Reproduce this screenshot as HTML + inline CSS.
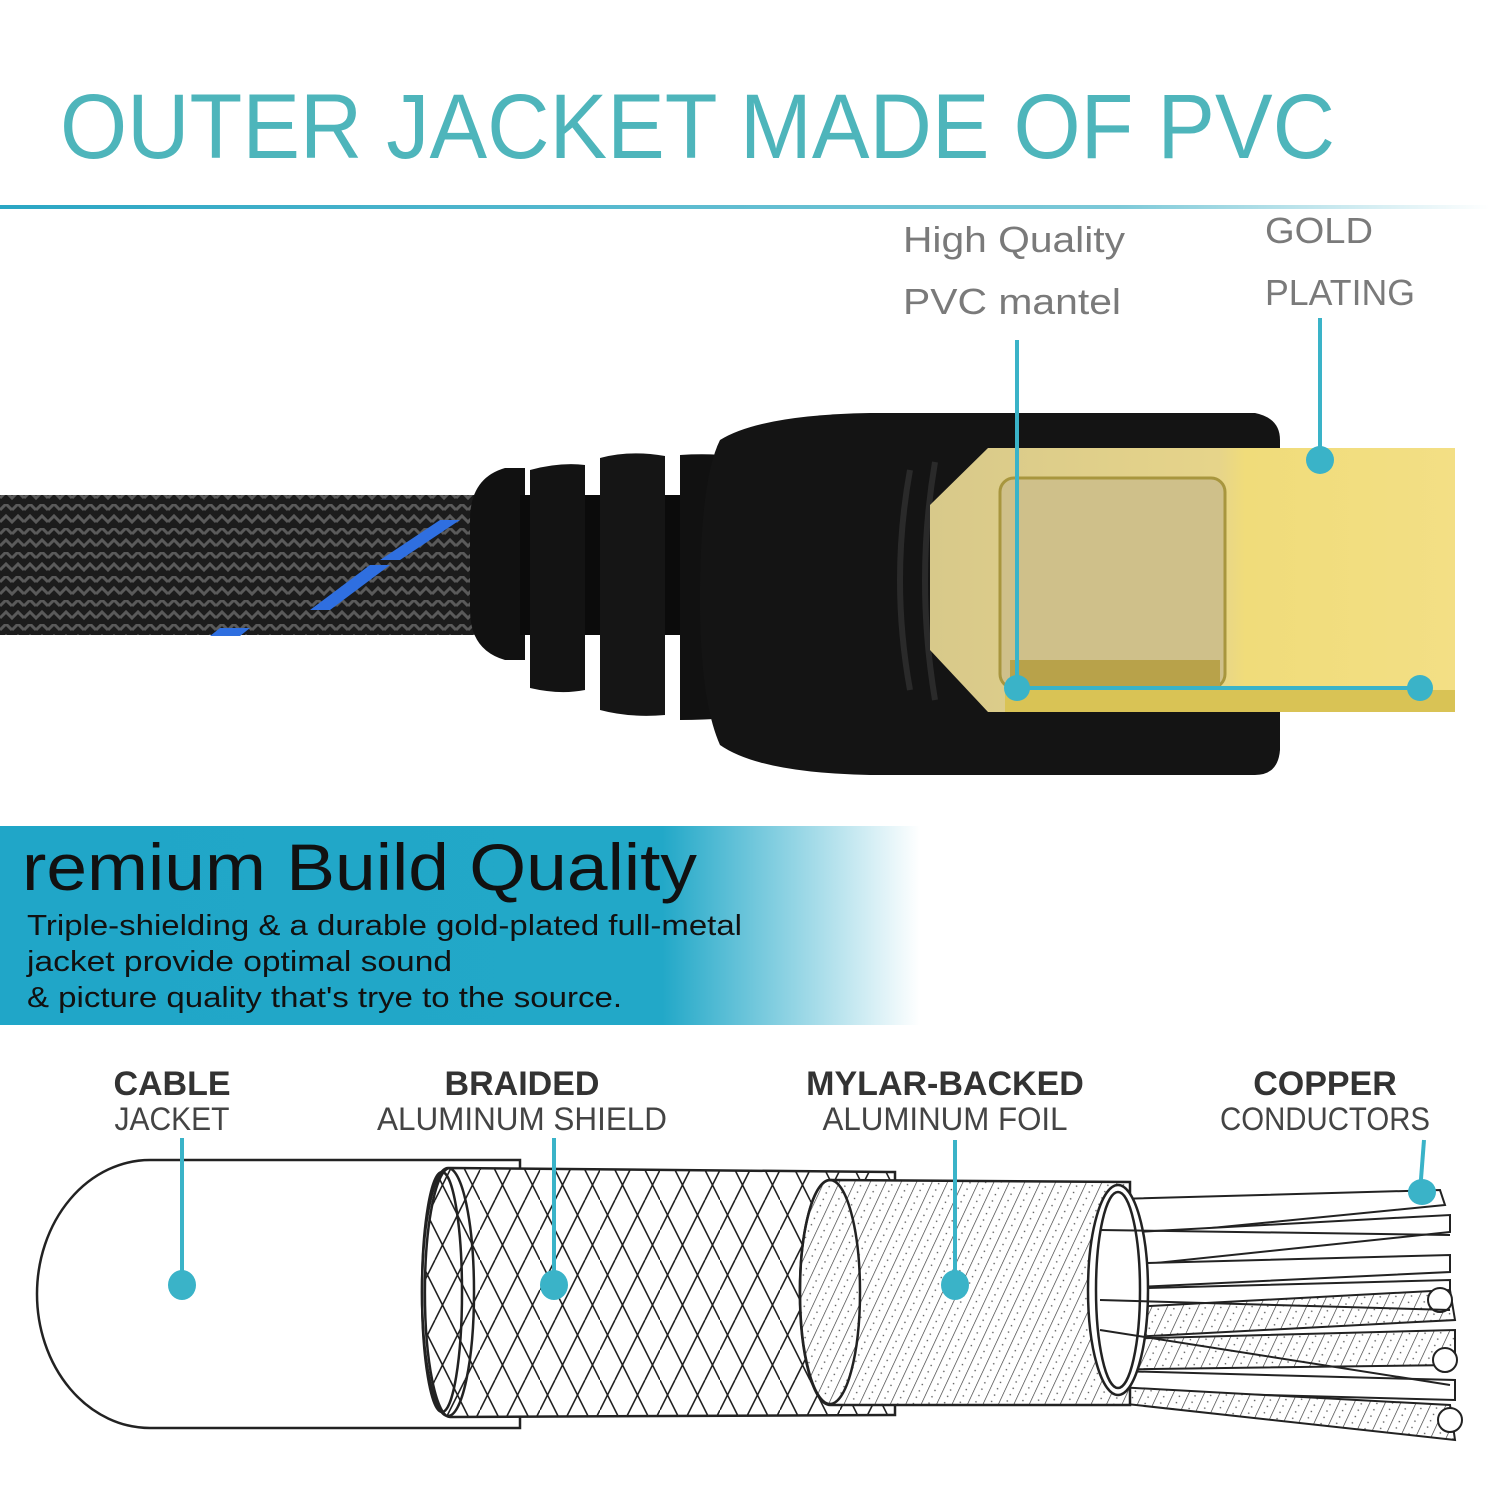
<!DOCTYPE html>
<html><head><meta charset="utf-8"><style>
html,body{margin:0;padding:0;background:#fff;}
svg{display:block;}
</style></head><body>
<svg width="1500" height="1498" viewBox="0 0 1500 1498" xmlns="http://www.w3.org/2000/svg" font-family="Liberation Sans, sans-serif">
<defs>
<linearGradient id="hl" x1="0" x2="1"><stop offset="0" stop-color="#2aa6c4"/><stop offset="0.75" stop-color="#7cc9d8"/><stop offset="1" stop-color="#fff"/></linearGradient>
<linearGradient id="ban" x1="0" x2="920" gradientUnits="userSpaceOnUse"><stop offset="0" stop-color="#20a6c8"/><stop offset="0.72" stop-color="#22a8c8"/><stop offset="1" stop-color="#fff"/></linearGradient>
<pattern id="braid" width="24" height="24" patternUnits="userSpaceOnUse">
<rect width="24" height="24" fill="#1c1c1c"/>
<path d="M0,6 L6,0 L12,6 M12,6 L18,0 L24,6 M0,18 L6,12 L12,18 L18,12 L24,18" stroke="#5a5a5a" stroke-width="3" fill="none"/>
</pattern>
<pattern id="hb" width="60" height="60" patternUnits="userSpaceOnUse" patternTransform="rotate(0)">
<rect width="60" height="60" fill="#fff"/>
<path d="M0,0 L30,60 M30,0 L60,60 M0,30 L15,0 M15,60 L45,0 M45,60 L60,30 M-15,30 L0,0" stroke="#222" stroke-width="1.6" fill="none"/>
</pattern>
<pattern id="foil" width="14" height="14" patternUnits="userSpaceOnUse" patternTransform="rotate(25)">
<rect width="14" height="14" fill="#fff"/>
<line x1="0" y1="0" x2="0" y2="14" stroke="#333" stroke-width="1.3"/>
<circle cx="7" cy="4" r="0.8" fill="#555"/><circle cx="7" cy="11" r="0.8" fill="#555"/>
</pattern>
<linearGradient id="gold" x1="0" x2="1"><stop offset="0" stop-color="#d8c98a"/><stop offset="0.55" stop-color="#e6d48a"/><stop offset="0.6" stop-color="#f0dc7a"/><stop offset="1" stop-color="#f3df85"/></linearGradient>
</defs>

<text x="60" y="158" font-size="92" fill="#4eb5bb" textLength="1275" lengthAdjust="spacingAndGlyphs">OUTER JACKET MADE OF PVC</text>
<rect x="0" y="205" width="1490" height="4" fill="url(#hl)"/>

<text x="903" y="252" font-size="36" fill="#7a7a7a" textLength="222" lengthAdjust="spacingAndGlyphs">High Quality</text>
<text x="903" y="314" font-size="36" fill="#7a7a7a" textLength="218" lengthAdjust="spacingAndGlyphs">PVC mantel</text>
<text x="1265" y="243" font-size="36" fill="#7a7a7a" textLength="108" lengthAdjust="spacingAndGlyphs">GOLD</text>
<text x="1265" y="305" font-size="36" fill="#7a7a7a" textLength="150" lengthAdjust="spacingAndGlyphs">PLATING</text>

<!-- cable braid -->
<rect x="0" y="495" width="500" height="140" fill="url(#braid)"/>
<path d="M440,520 L460,520 L400,560 L380,560Z M370,565 L390,565 L330,610 L310,610Z M220,628 L250,628 L240,636 L210,636Z" fill="#2f6fe0"/>
<!-- boot ribs -->
<path d="M470,520 Q470,478 505,468 L525,468 L525,660 L505,660 Q470,650 470,610Z" fill="#111"/>
<rect x="520" y="495" width="170" height="140" fill="#0b0b0b"/>
<path d="M530,470 Q560,462 585,465 L585,690 Q560,695 530,688Z" fill="#131313"/>
<path d="M600,458 Q630,450 665,456 L665,715 Q630,718 600,710Z" fill="#151515"/>
<path d="M680,455 Q760,450 800,480 Q860,520 860,580 Q860,660 800,700 Q760,720 680,720Z" fill="#111"/>
<!-- body -->
<path d="M720,440 Q760,415 870,413 L1255,413 Q1280,418 1280,440 L1280,750 Q1278,775 1255,775 L870,775 Q760,773 720,745 Q700,700 700,600 Q700,480 720,440Z" fill="#141414"/>
<path d="M910,470 Q890,580 910,690" stroke="#2a2a2a" stroke-width="6" fill="none"/>
<path d="M935,462 Q915,580 935,700" stroke="#2a2a2a" stroke-width="6" fill="none"/>
<!-- gold -->
<path d="M988,448 L1455,448 L1455,712 L988,712 L930,650 L930,505Z" fill="url(#gold)"/>
<rect x="1000" y="478" width="225" height="210" rx="14" fill="#cfc08a" stroke="#a8963e" stroke-width="3"/>
<rect x="1010" y="660" width="210" height="28" fill="#b8a24a"/>
<rect x="1005" y="690" width="450" height="22" fill="#d9c355"/>
<!-- callouts -->
<g stroke="#3ab3c8" stroke-width="4" fill="#3ab3c8">
<line x1="1017" y1="340" x2="1017" y2="688"/>
<line x1="1017" y1="688" x2="1420" y2="688"/>
<line x1="1320" y1="318" x2="1320" y2="460"/>
<circle cx="1017" cy="688" r="13" stroke="none"/>
<circle cx="1420" cy="688" r="13" stroke="none"/>
<circle cx="1320" cy="460" r="14" stroke="none"/>
</g>

<!-- banner -->
<rect x="0" y="826" width="920" height="199" fill="url(#ban)"/>
<text x="22" y="890" font-size="66" fill="#111" textLength="675" lengthAdjust="spacingAndGlyphs">remium Build Quality</text>
<text x="27" y="935" font-size="29" fill="#111" textLength="715" lengthAdjust="spacingAndGlyphs">Triple-shielding &amp; a durable gold-plated full-metal</text>
<text x="27" y="971" font-size="29" fill="#111" textLength="425" lengthAdjust="spacingAndGlyphs">jacket provide optimal sound</text>
<text x="27" y="1007" font-size="29" fill="#111" textLength="595" lengthAdjust="spacingAndGlyphs">&amp; picture quality that's trye to the source.</text>

<!-- labels -->
<g font-weight="bold" font-size="34" fill="#333" text-anchor="middle">
<text x="172" y="1095">CABLE</text>
<text x="522" y="1095">BRAIDED</text>
<text x="945" y="1095">MYLAR-BACKED</text>
<text x="1325" y="1095">COPPER</text>
</g>
<g font-size="32" fill="#444" text-anchor="middle" font-weight="normal">
<text x="172" y="1130" textLength="115" lengthAdjust="spacingAndGlyphs">JACKET</text>
<text x="522" y="1130" textLength="290" lengthAdjust="spacingAndGlyphs">ALUMINUM SHIELD</text>
<text x="945" y="1130" textLength="245" lengthAdjust="spacingAndGlyphs">ALUMINUM FOIL</text>
<text x="1325" y="1130" textLength="210" lengthAdjust="spacingAndGlyphs">CONDUCTORS</text>
</g>

<!-- cable diagram -->
<g stroke="#222" stroke-width="2.5" fill="#fff">
<!-- wires -->
<g stroke-width="2">
<path d="M1080,1200 L1440,1190 L1445,1205 L1090,1240Z"/>
<path d="M1080,1235 L1450,1215 L1450,1232 L1090,1270Z"/>
<path d="M1075,1265 L1450,1255 L1450,1272 L1075,1290Z"/>
<path d="M1075,1290 L1450,1280 L1450,1300 L1075,1310Z"/>
<path d="M1075,1310 L1450,1290 L1455,1320 L1075,1340Z" fill="url(#foil)"/>
<path d="M1075,1340 L1455,1330 L1455,1365 L1075,1370Z" fill="url(#foil)"/>
<path d="M1080,1370 L1455,1380 L1455,1400 L1080,1390Z"/>
<path d="M1080,1385 L1450,1405 L1455,1440 L1090,1400Z" fill="url(#foil)"/>
<circle cx="1440" cy="1300" r="12"/><circle cx="1445" cy="1360" r="12"/><circle cx="1450" cy="1420" r="12"/>
</g>
<!-- jacket -->
<path d="M150,1160 L520,1160 L520,1428 L150,1428 A113,134 0 0 1 150,1160Z"/>
<!-- braid -->
<path d="M450,1168 L895,1172 L895,1415 L450,1417 A25,124 0 0 1 450,1168Z" fill="url(#hb)"/>
<ellipse cx="448" cy="1292" rx="26" ry="124" fill="none"/>
<ellipse cx="442" cy="1292" rx="20" ry="120" fill="none"/>
<!-- foil -->
<path d="M830,1180 L1130,1182 L1130,1405 L830,1405 A30,112 0 0 1 830,1180Z" fill="url(#foil)"/>
<ellipse cx="830" cy="1292" rx="30" ry="112" fill="none"/>
<ellipse cx="1118" cy="1290" rx="30" ry="105" fill="#fff"/>
<ellipse cx="1118" cy="1290" rx="22" ry="98" fill="#fff"/>
</g>
<g stroke="#222" stroke-width="2" fill="#fff">
<path d="M1100,1230 L1450,1235 M1100,1300 L1450,1310 M1100,1330 L1450,1385" fill="none"/>
</g>

<g stroke="#3ab3c8" stroke-width="4" fill="#3ab3c8">
<line x1="182" y1="1138" x2="182" y2="1285"/>
<line x1="554" y1="1138" x2="554" y2="1285"/>
<line x1="955" y1="1140" x2="955" y2="1285"/>
<line x1="1424" y1="1140" x2="1420" y2="1192"/>
<ellipse cx="182" cy="1285" rx="14" ry="15" stroke="none"/>
<ellipse cx="554" cy="1285" rx="14" ry="15" stroke="none"/>
<ellipse cx="955" cy="1285" rx="14" ry="15" stroke="none"/>
<ellipse cx="1422" cy="1192" rx="14" ry="13" stroke="none"/>
</g>
</svg>
</body></html>
